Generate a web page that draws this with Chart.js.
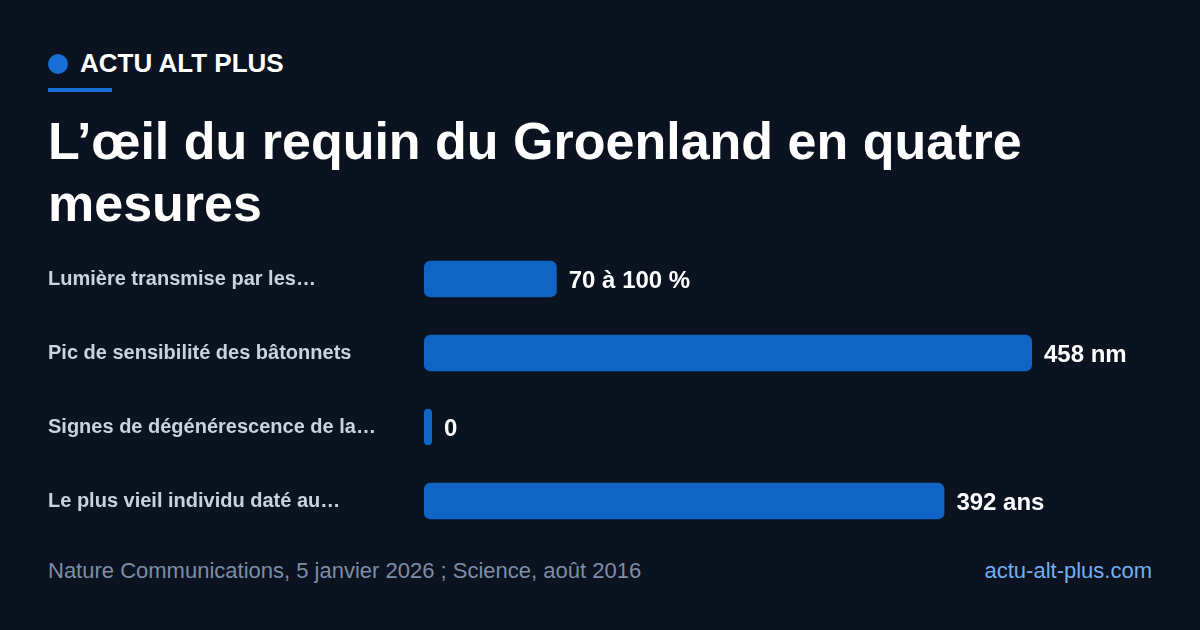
<!DOCTYPE html>
<html><head><meta charset="utf-8">
<script src="https://cdn.jsdelivr.net/npm/chart.js@4/dist/chart.umd.min.js"></script>
<style>
body{margin:0;width:1200px;height:630px;background:#0b1320;font-family:"Liberation Sans",Arial,sans-serif;position:relative;overflow:hidden}
.brand{position:absolute;left:48px;top:48px;color:#fff;font-weight:bold;font-size:26px;display:flex;align-items:center}
.dot{width:20px;height:20px;border-radius:50%;background:#1a6fd6;margin-right:12px}
.rule{position:absolute;left:48px;top:88px;width:64px;height:4px;background:#1a6fd6}
h1{position:absolute;left:48px;top:110px;margin:0;color:#fff;font-size:52px;line-height:62px;font-weight:bold;width:1100px}
#wrap{position:absolute;left:48px;top:227px;width:1104px;height:326px}
.src{position:absolute;left:48px;top:558px;color:#7d8ea6;font-size:22px}
.site{position:absolute;right:48px;top:558px;color:#6fb0f0;font-size:22px}
</style></head><body>
<div class="brand"><div class="dot"></div>ACTU ALT PLUS</div>
<div class="rule"></div>
<h1>L’œil du requin du Groenland en quatre mesures</h1>
<div id="wrap"><canvas id="bar"></canvas></div>
<div class="src">Nature Communications, 5 janvier 2026 ; Science, août 2016</div>
<div class="site">actu-alt-plus.com</div>
<script>
// données
const categories = ["Lumière transmise par les…", "Pic de sensibilité des bâtonnets", "Signes de dégénérescence de la…", "Le plus vieil individu daté au…"];
const values = [100, 458, 0, 392];
const valueLabels = ["70 à 100 %", "458 nm", "0", "392 ans"];

const valueText = {
    id: "valueText",
    afterDatasetsDraw(chart) {
        let ctx = chart.ctx;
        ctx.save();
        ctx.fillStyle = "#fff";
        ctx.font = "bold 24px 'Liberation Sans', Arial";
        ctx.textBaseline = "middle";
        chart.getDatasetMeta(0).data.forEach((bar, i) => {
            ctx.fillText(valueLabels[i], bar.x + 12, bar.y + 2);
        });
        ctx.restore();
    }
};

new Chart(document.getElementById("bar"), {
    type: "bar",
    data: {
        labels: categories,
        datasets: [{
            data: values,
            backgroundColor: "#0f64c4",
            borderRadius: 6,
            borderSkipped: false,
            minBarLength: 8,
            barPercentage: 0.49,
            categoryPercentage: 1
        }]
    },
    options: {
        indexAxis: "y",
        responsive: true,
        maintainAspectRatio: false,
        animation: false,
        layout: { padding: { right: 120, top: 0, bottom: 0 } },
        plugins: { legend: { display: false }, tooltip: { enabled: false } },
        scales: {
            x: { display: false, min: 0, max: 458 },
            y: {
                grid: { display: false },
                border: { display: false },
                afterFit(scale) { scale.width = 376; },
                ticks: {
                    crossAlign: "far",
                    color: "#c9d3e0",
                    font: { family: "'Liberation Sans', Arial", size: 20, weight: "bold" }
                }
            }
        }
    },
    plugins: [valueText]
});
</script>
</body></html>
